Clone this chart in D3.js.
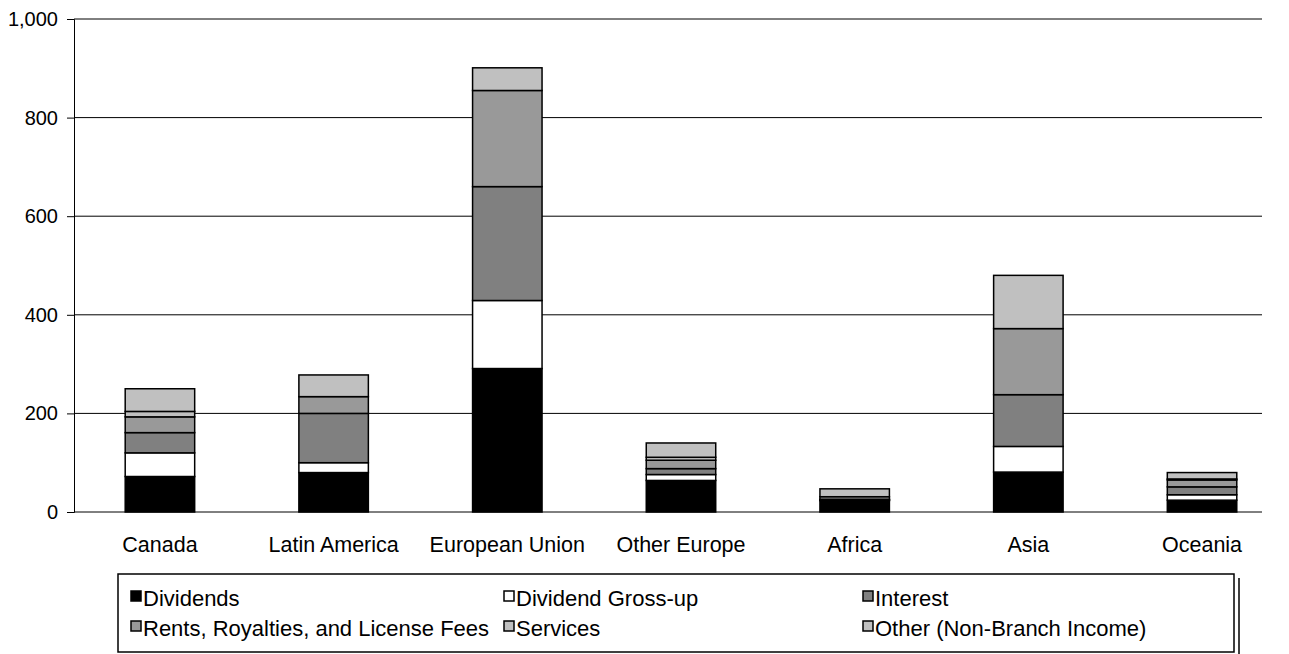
<!DOCTYPE html>
<html>
<head>
<meta charset="utf-8">
<script src="https://cdn.jsdelivr.net/npm/d3@7"></script>
<style>
  body { margin: 0; background: #fff; }
  svg { display: block; font-family: "Liberation Sans", Arial, sans-serif; }
</style>
</head>
<body>
<svg width="1289" height="654"></svg>
<script>
var categories = ['Canada', 'Latin America', 'European Union', 'Other Europe', 'Africa', 'Asia', 'Oceania'];
var seriesNames = ['Dividends', 'Dividend Gross-up', 'Interest', 'Rents, Royalties, and License Fees', 'Services', 'Other (Non-Branch Income)'];
var dividends = [72, 80, 291, 64, 23, 81, 24];
var grossUp = [48, 20, 138, 12, 1, 52, 11];
var interest = [41, 100, 231, 12, 1, 105, 16];
var rents = [32, 34, 195, 17, 1, 134, 14];
var services = [11, 0, 0, 6, 5, 0, 2];
var other = [46, 44, 46, 29, 16, 108, 13];
var yTicks = [0, 200, 400, 600, 800, 1000];
var colors = ['#000000', '#ffffff', '#808080', '#999999', '#c0c0c0', '#c0c0c0'];

(function () {
  'use strict';
  var svg = d3.select('svg');
  var left = 74, right = 1262, top = 19, bottom = 512;
  var font = '"Liberation Sans", Arial, sans-serif';

  var rows = categories.map(function (c, i) {
    return {
      cat: c,
      s0: dividends[i], s1: grossUp[i], s2: interest[i],
      s3: rents[i], s4: services[i], s5: other[i]
    };
  });
  var keys = ['s0', 's1', 's2', 's3', 's4', 's5'];
  var stacked = d3.stack().keys(keys)(rows);

  var x = d3.scaleBand().domain(categories).range([left, right])
    .paddingInner(0.6).paddingOuter(0.22).align(0.67);
  var y = d3.scaleLinear().domain([0, 1000]).range([bottom, top]);

  // gridlines
  svg.append('g').selectAll('line').data(yTicks).enter().append('line')
    .attr('x1', left).attr('x2', right)
    .attr('y1', function (d) { return y(d); })
    .attr('y2', function (d) { return y(d); })
    .style('stroke', '#000').style('stroke-width', '1px');

  // y axis
  var yAxis = d3.axisLeft(y).tickValues(yTicks).tickFormat(d3.format(',')).tickSize(7).tickPadding(9);
  var ya = svg.append('g').attr('transform', 'translate(' + left + ',0)').call(yAxis);
  ya.select('.domain').style('stroke', '#000');
  ya.selectAll('text').style('font-size', '20px').style('fill', '#000').style('font-family', font);

  // bars
  svg.append('g').selectAll('g').data(stacked).enter().append('g')
    .style('fill', function (d, i) { return colors[i]; })
    .selectAll('rect').data(function (d) { return d; }).enter().append('rect')
    .attr('x', function (d) { return x(d.data.cat); })
    .attr('width', x.bandwidth())
    .attr('y', function (d) { return y(d[1]); })
    .attr('height', function (d) { return y(d[0]) - y(d[1]); })
    .style('stroke', '#000').style('stroke-width', '1.5px');

  // x labels
  var xAxis = d3.axisBottom(x).tickSize(0).tickPadding(25);
  var xa = svg.append('g').attr('transform', 'translate(0,' + bottom + ')').call(xAxis);
  xa.select('.domain').remove();
  xa.selectAll('text').style('font-size', '21.5px').style('fill', '#000').style('font-family', font);

  // legend
  var lg = svg.append('g');
  lg.append('rect').attr('x', 118).attr('y', 574).attr('width', 1116).attr('height', 78)
    .style('fill', '#fff').style('stroke', '#000').style('stroke-width', '1.5px');
  lg.append('line').attr('x1', 1239).attr('x2', 1239).attr('y1', 578).attr('y2', 654)
    .style('stroke', '#000').style('stroke-width', '1.5px');
  var colX = [131, 504, 863];
  var rowY = [598, 628];
  var items = lg.selectAll('g.item').data(seriesNames).enter().append('g')
    .attr('class', 'item')
    .attr('transform', function (d, i) {
      return 'translate(' + colX[i % 3] + ',' + rowY[Math.floor(i / 3)] + ')';
    });
  items.append('rect').attr('x', 0).attr('y', -7).attr('width', 10).attr('height', 10)
    .style('fill', function (d, i) { return colors[i]; })
    .style('stroke', '#000').style('stroke-width', '1.5px');
  items.append('text').attr('x', 12).attr('y', 0).attr('dy', '0.35em')
    .style('font-size', '22px').style('font-family', font).text(function (d) { return d; });
}());
</script>
</body>
</html>
